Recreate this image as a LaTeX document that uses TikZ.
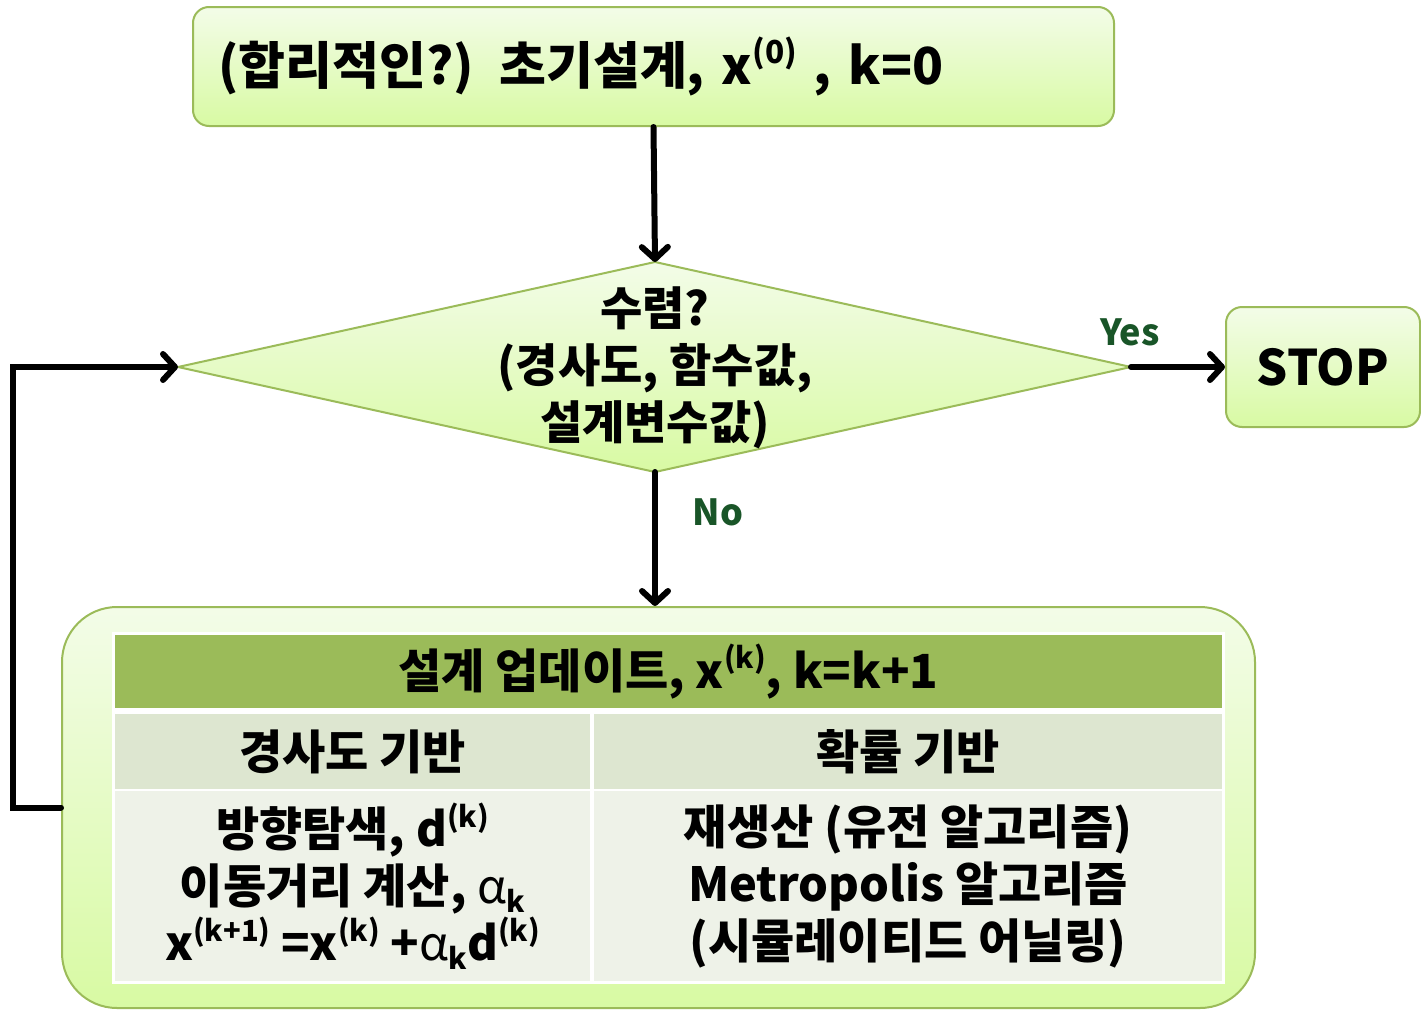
\documentclass[tikz,border=0pt]{standalone}
\usepackage{fontspec}
\usepackage{graphicx}
\setmainfont{Noto Sans CJK KR}
\usetikzlibrary{arrows.meta}
\definecolor{bordergreen}{RGB}{155,187,89}
\definecolor{gradtop}{RGB}{243,252,232}
\definecolor{gradbot}{RGB}{216,250,163}
\definecolor{headgreen}{RGB}{155,187,89}
\definecolor{rowtwo}{RGB}{221,230,208}
\definecolor{rowthree}{RGB}{238,242,232}
\definecolor{lblgreen}{RGB}{25,85,40}
\newcommand\supr[1]{\raisebox{0.42em}{\scalebox{0.62}{#1}}}
\newcommand\subr[1]{\raisebox{-0.18em}{\scalebox{0.62}{#1}}}
\newcommand\alp{{\mdseries α}}
\begin{document}
\begin{tikzpicture}[x=1pt,y=-1pt,
  gbox/.style={draw=bordergreen, line width=2pt, top color=gradtop, bottom color=gradbot, inner sep=0pt},
  cell/.style={inner sep=0pt, align=center, font=\fontsize{47}{57}\selectfont\bfseries},
  conn/.style={line width=6pt, line cap=round, line join=miter, -{Straight Barb[length=12pt,width=26pt,line cap=round,line join=round]}},
  lbl/.style={text=lblgreen, font=\fontsize{36}{40}\selectfont\bfseries, inner sep=0pt}]
\useasboundingbox (0,0) rectangle (1421,1009);
% top box
\node[gbox, minimum width=921pt, minimum height=119pt, rounded corners=16pt, text width=871pt, align=left,
  font=\fontsize{51}{60}\selectfont\bfseries] (init) at (653.5,66.5) {(합리적인?) 초기설계, x\supr{(0)} , k=0};
% diamond
\path[draw=bordergreen, line width=2pt, top color=gradtop, bottom color=gradbot]
  (178,367) coordinate (dl) -- (655,262) coordinate (dt) -- (1131,367) coordinate (dr) -- (655,472) coordinate (db) -- cycle;
\node[align=center, inner sep=0pt, font=\fontsize{46}{57}\selectfont\bfseries] (dtext) at (655,368) {수렴?\\(경사도, 함수값,\\설계변수값)};
% stop
\node[gbox, minimum width=194pt, minimum height=120pt, rounded corners=16pt, font=\fontsize{49}{60}\selectfont\bfseries] (stop) at (1323,367) {STOP};
% update box
\node[gbox, minimum width=1193pt, minimum height=401pt, rounded corners=55pt] (update) at (658.5,807.5) {};
\fill[white] (112,632) rectangle (1225,984);
\node[cell, fill=headgreen, minimum width=1107pt, minimum height=73pt] (head) at (668.5,671.5) {설계 업데이트, x\supr{(k)}, k=k+1};
\node[cell, fill=rowtwo, minimum width=475pt, minimum height=75pt] (gradhead) at (352.5,751.5) {경사도 기반};
\node[cell, fill=rowtwo, minimum width=628pt, minimum height=75pt] (probhead) at (908,751.5) {확률 기반};
\node[cell, fill=rowthree, minimum width=475pt, minimum height=190pt] (gradbody) at (352.5,886) {방향탐색, d\supr{(k)}\\이동거리 계산, \alp\subr{k}\\x\supr{(k+1)} =x\supr{(k)} +\alp\subr{k}d\supr{(k)}};
\node[cell, fill=rowthree, minimum width=628pt, minimum height=190pt] (probbody) at (908,886) {재생산 (유전 알고리즘)\\Metropolis 알고리즘\\(시뮬레이티드 어닐링)};
% connectors
\draw[conn] (init.south) -- (dt);
\draw[conn] (dr) -- (stop.west);
\draw[conn] (db) -- (db |- update.north);
\draw[conn] (update.west) -- ++(-48,0) |- (dl);
\node[lbl] (yes) at (1130,332) {Yes};
\node[lbl] (no) at (718,512) {No};
\end{tikzpicture}
\end{document}
